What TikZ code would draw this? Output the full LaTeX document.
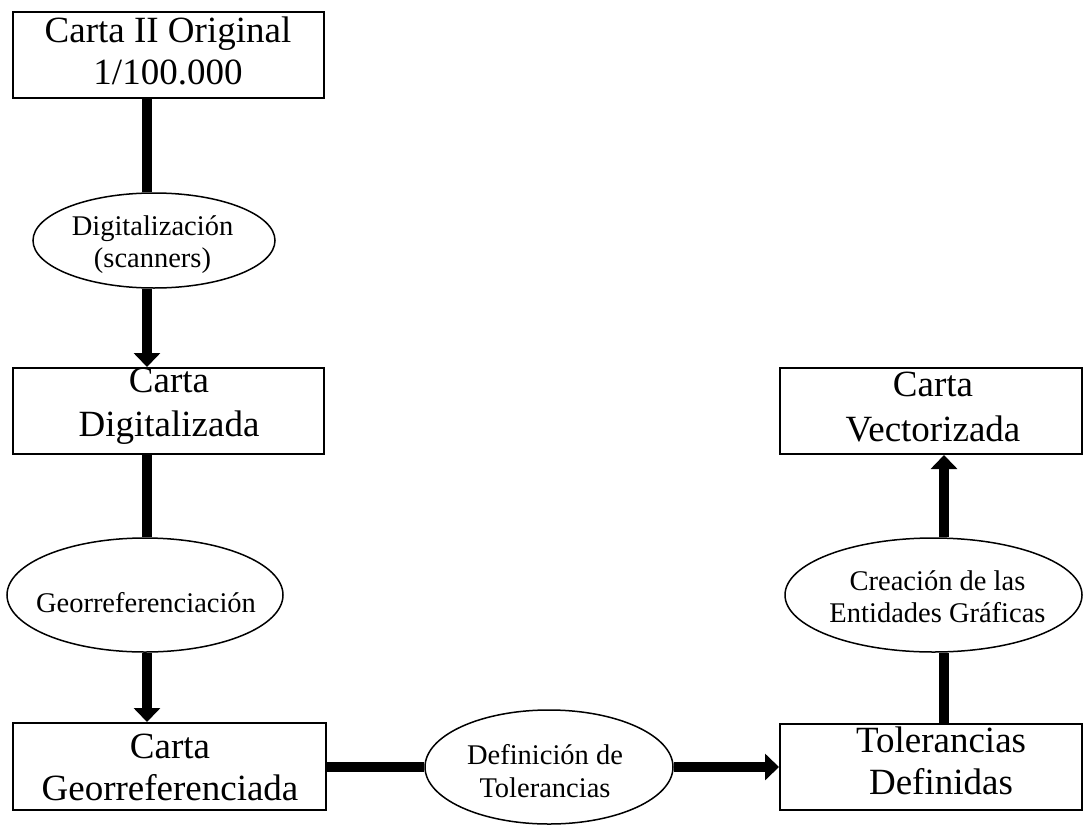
\documentclass[tikz,border=0pt]{standalone}
\usepackage{fontspec}
\setmainfont{Liberation Serif}
\usetikzlibrary{shapes.geometric,arrows.meta}
\begin{document}
\begin{tikzpicture}[x=1pt,y=-1pt,
  box/.style={draw, line width=2pt, rectangle, inner sep=0pt, anchor=north west},
  proc/.style={draw, line width=1.5pt, ellipse, inner sep=0pt},
  btxt/.style={align=center, inner sep=0pt, font=\fontsize{37}{42}\selectfont},
  etxt/.style={align=center, inner sep=0pt, font=\fontsize{28.5}{31}\selectfont},
  link/.style={line width=10pt},
  flow/.style={line width=10pt, -{Triangle[width=26pt,length=14pt]}}]
\useasboundingbox (0,0) rectangle (1083,824);
% column coordinates
\coordinate (colL) at (147,0);
\coordinate (colR) at (944,0);
% boxes
\node[box, minimum width=311pt, minimum height=86pt] (b1) at (12,11) {};
\node[box, minimum width=311pt, minimum height=86pt] (b2) at (12,367) {};
\node[box, minimum width=313pt, minimum height=87pt] (b3) at (12,722) {};
\node[box, minimum width=302pt, minimum height=86pt] (bv) at (779,367) {};
\node[box, minimum width=302pt, minimum height=86pt] (b4) at (779,723) {};
% box texts
\node[btxt] (t1) at (168,50.5) {Carta II Original\\1/100.000};
\node[btxt, font=\fontsize{37}{44}\selectfont] (t2) at (169,406) {Carta\\Digitalizada};
\node[btxt] (t3) at (170,767) {Carta\\Georreferenciada};
\node[btxt, font=\fontsize{37}{45}\selectfont] (tv) at (933,407) {Carta\\Vectorizada};
\node[btxt] (t4) at (941,761) {Tolerancias\\Definidas};
% ellipses
\node[proc, minimum width=242pt, minimum height=95pt] (e1) at (154,240.5) {};
\node[proc, minimum width=276pt, minimum height=114pt] (e2) at (145,595) {};
\node[proc, minimum width=248pt, minimum height=114pt] (e3) at (549,767) {};
\node[proc, minimum width=297pt, minimum height=114pt] (e4) at (933.5,595) {};
% ellipse texts
\node[etxt, font=\fontsize{28.5}{32}\selectfont] (s1) at (152.5,245) {Digitalización\\(scanners)};
\node[etxt] (s2) at (146,603) {Georreferenciación};
\node[etxt, font=\fontsize{28.5}{33}\selectfont] (s3) at (545,771) {Definición de\\Tolerancias};
\node[etxt, font=\fontsize{28.5}{32}\selectfont] (s4) at (937.5,597) {Creación de las\\Entidades Gráficas};
% connectors
\draw[link] (b1.south -| colL) -- (e1.north -| colL);
\draw[flow] (e1.south -| colL) -- (b2.north -| colL);
\draw[link] (b2.south -| colL) -- (e2.north -| colL);
\draw[flow] (e2.south -| colL) -- (b3.north -| colL);
\draw[link] (b3.east |- e3.center) -- (e3.west);
\draw[flow] (e3.east) -- (b4.west |- e3.center);
\draw[link] (b4.north -| colR) -- (e4.south -| colR);
\draw[flow] (e4.north -| colR) -- (bv.south -| colR);
\end{tikzpicture}
\end{document}
